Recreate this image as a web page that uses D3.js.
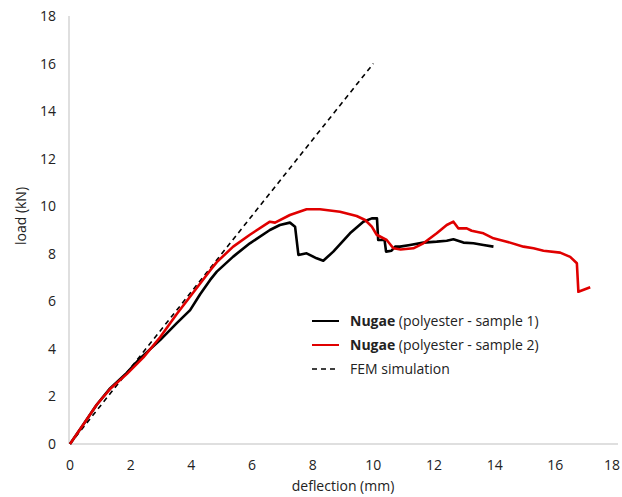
<!DOCTYPE html>
<html>
<head>
<meta charset="utf-8">
<script src="https://cdn.jsdelivr.net/npm/d3@7"></script>
<style>
  body { margin: 0; background: #fff; }
  text { font-family: "Open Sans", "Liberation Sans", sans-serif; fill: #222; }
</style>
</head>
<body>
<svg id="chart" width="622" height="497"></svg>
<script>
// deflection (mm), load (kN)
const sample1 = [
  [0, 0], [0.44, 0.82], [0.88, 1.65], [1.32, 2.34], [1.87, 2.99], [2.31, 3.6],
  [2.97, 4.37], [3.52, 5.08], [3.96, 5.63], [4.29, 6.3], [4.62, 6.9], [4.84, 7.25],
  [5.38, 7.88], [5.93, 8.44], [6.59, 9.0], [6.92, 9.21], [7.25, 9.31], [7.42, 9.14],
  [7.53, 7.95], [7.8, 8.02], [8.13, 7.81], [8.35, 7.71], [8.68, 8.09], [9.23, 8.86],
  [9.67, 9.35], [9.95, 9.49], [10.12, 9.49], [10.16, 8.58], [10.37, 8.58],
  [10.42, 8.09], [10.6, 8.13], [10.72, 8.3], [10.88, 8.3], [11.21, 8.37],
  [11.65, 8.47], [12.09, 8.51], [12.42, 8.55], [12.64, 8.61], [12.97, 8.47],
  [13.3, 8.44], [13.63, 8.37], [13.96, 8.3]
];
const sample2 = [
  [0, 0], [0.44, 0.82], [0.88, 1.65], [1.32, 2.31], [1.87, 2.94], [2.42, 3.64],
  [2.97, 4.49], [3.52, 5.47], [4.07, 6.38], [4.62, 7.3], [4.84, 7.65], [5.38, 8.3],
  [5.93, 8.8], [6.59, 9.35], [6.76, 9.31], [7.25, 9.63], [7.8, 9.87], [8.24, 9.87],
  [8.9, 9.77], [9.45, 9.59], [9.73, 9.42], [9.95, 9.14], [10.11, 8.8], [10.44, 8.58],
  [10.66, 8.23], [10.9, 8.18], [11.32, 8.23], [11.65, 8.44], [12.09, 8.86],
  [12.42, 9.21], [12.64, 9.35], [12.8, 9.07], [13.08, 9.07], [13.24, 8.97],
  [13.63, 8.86], [13.96, 8.65], [14.4, 8.51], [14.95, 8.3], [15.28, 8.23],
  [15.61, 8.13], [16.16, 8.05], [16.49, 7.87], [16.71, 7.6], [16.76, 6.4], [17.15, 6.59]
];
const femSimulation = [[0, 0], [10, 16]];

const xTicks = [0, 2, 4, 6, 8, 10, 12, 14, 16, 18];
const yTicks = [0, 2, 4, 6, 8, 10, 12, 14, 16, 18];

const legendItems = [
  {bold: 'Nugae', rest: ' (polyester - sample 1)', color: '#000', dash: null},
  {bold: 'Nugae', rest: ' (polyester - sample 2)', color: '#e00000', dash: null},
  {bold: '', rest: 'FEM simulation', color: '#000', dash: '5,4'}
];

const svg = d3.select('#chart');

const x = d3.scaleLinear().domain([0, 18]).range([70, 616]);
const y = d3.scaleLinear().domain([0, 18]).range([444, 16]);

// axis lines
svg.append('line')
  .attr('x1', x(0)).attr('x2', x(18) + 2)
  .attr('y1', y(0)).attr('y2', y(0))
  .attr('stroke', '#bfbfbf').attr('stroke-width', 1);
svg.append('line')
  .attr('x1', x(0) - 1).attr('x2', x(0) - 1)
  .attr('y1', y(0)).attr('y2', y(18))
  .attr('stroke', '#bfbfbf').attr('stroke-width', 1);

// tick labels (last one pulled in so it stays inside the page)
svg.selectAll('text.xtick')
  .data(xTicks)
  .enter().append('text')
  .attr('class', 'xtick')
  .attr('x', d => Math.min(x(d), 612))
  .attr('y', 470)
  .attr('text-anchor', 'middle')
  .style('font-size', '14px')
  .text(d => d);

svg.selectAll('text.ytick')
  .data(yTicks)
  .enter().append('text')
  .attr('class', 'ytick')
  .attr('x', 56)
  .attr('y', d => y(d) + 5)
  .attr('text-anchor', 'end')
  .style('font-size', '14px')
  .text(d => d);

// axis titles
svg.append('text')
  .attr('x', 343).attr('y', 491)
  .attr('text-anchor', 'middle')
  .style('font-size', '14px')
  .text('deflection (mm)');
svg.append('text')
  .attr('transform', 'translate(26,216) rotate(-90)')
  .attr('text-anchor', 'middle')
  .style('font-size', '14px')
  .text('load (kN)');

const line = d3.line()
  .x(d => x(d[0]))
  .y(d => y(d[1]));

svg.append('path')
  .datum(femSimulation)
  .attr('d', line)
  .attr('fill', 'none')
  .attr('stroke', '#000')
  .attr('stroke-width', 1.6)
  .attr('stroke-dasharray', '5,4');

svg.append('path')
  .datum(sample1)
  .attr('d', line)
  .attr('fill', 'none')
  .attr('stroke', '#000')
  .attr('stroke-width', 2.6)
  .attr('stroke-linejoin', 'round');

svg.append('path')
  .datum(sample2)
  .attr('d', line)
  .attr('fill', 'none')
  .attr('stroke', '#e00000')
  .attr('stroke-width', 2.6)
  .attr('stroke-linejoin', 'round');

// legend
const legend = svg.append('g');
legendItems.forEach((item, i) => {
  const ly = 321 + i * 24;
  legend.append('line')
    .attr('x1', 312).attr('x2', 339)
    .attr('y1', ly).attr('y2', ly)
    .attr('stroke', item.color)
    .attr('stroke-width', item.dash ? 1.6 : 2)
    .attr('stroke-dasharray', item.dash);
  const t = legend.append('text')
    .attr('x', 350).attr('y', ly + 5)
    .style('font-size', '14px');
  if (item.bold) t.append('tspan').style('font-weight', 'bold').text(item.bold);
  t.append('tspan').text(item.rest);
});
</script>
</body>
</html>
